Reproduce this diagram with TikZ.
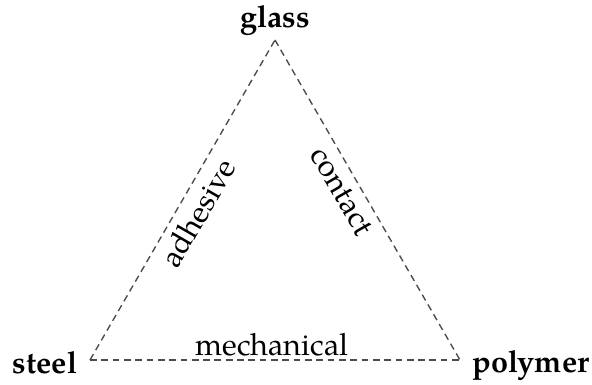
\documentclass[tikz,border=0pt]{standalone}
\usepackage{fontspec}
\setmainfont{texgyrepagella}[Extension=.otf, UprightFont=*-regular, BoldFont=*-bold, ItalicFont=*-italic, BoldItalicFont=*-bolditalic]
\begin{document}
\begin{tikzpicture}[x=0.327pt, y=-0.327pt,
  edge/.style={draw=black!70, line width=0.45pt, dash pattern=on 2.2pt off 1.5pt},
  vertexlabel/.style={font=\bfseries, inner sep=0pt, anchor=base},
  edgelabel/.style={sloped, inner sep=2pt}]
\useasboundingbox (0,0) rectangle (592,385);
\coordinate (cs) at (90,360);
\coordinate (cp) at (460,360);
\coordinate (cg) at (275,40);
\node[vertexlabel] (glass) at (275,28) {glass};
\node[vertexlabel] (steel) at (45,374) {steel};
\node[vertexlabel] (polymer) at (531,373) {polymer};
\draw[edge] (cs) -- node[edgelabel, pos=0.49, below=0.5pt] (adh) {adhesive} (cg);
\draw[edge] (cg) -- node[edgelabel, pos=0.445, below=0.5pt] (con) {contact} (cp);
\draw[edge] (cs) -- node[edgelabel, above=0pt, inner sep=1pt, xshift=-1pt] (mec) {mechanical} (cp);
\end{tikzpicture}
\end{document}
